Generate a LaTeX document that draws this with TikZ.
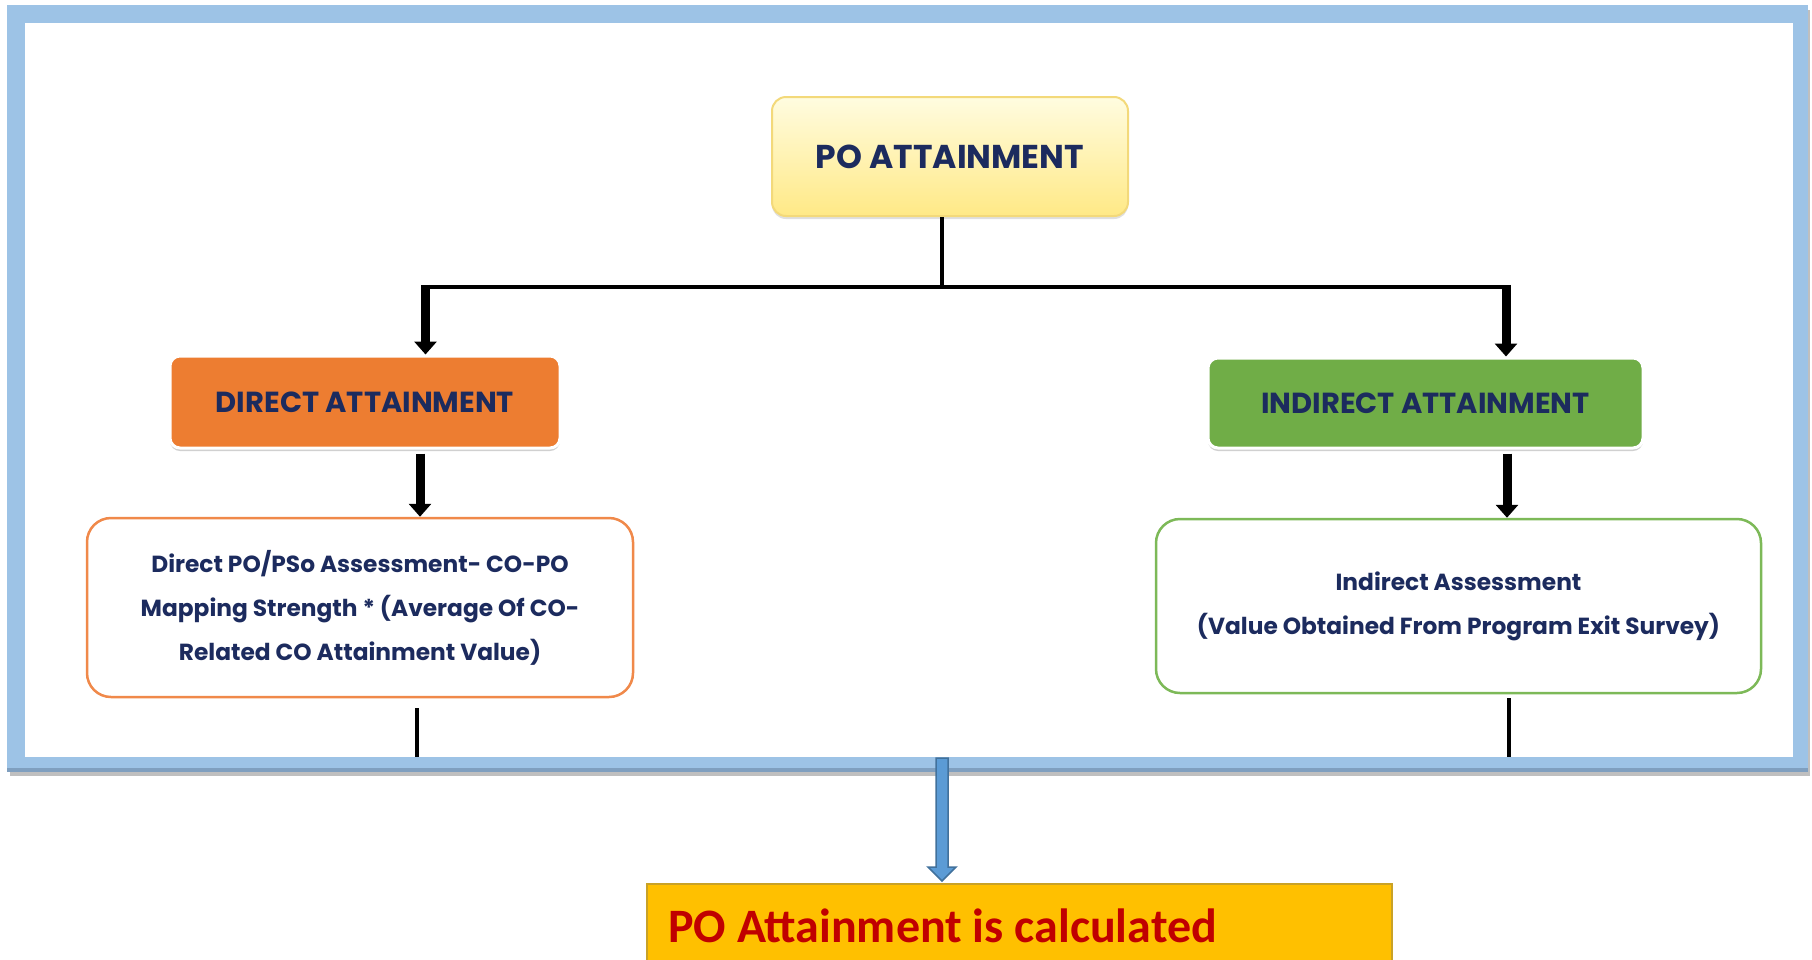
\documentclass[tikz,border=0pt]{standalone}
\usepackage{fontspec}
\setmainfont{Poppins}
\newfontfamily\carlito{Carlito}
\usetikzlibrary{arrows.meta,shadows,calc}
\definecolor{navy}{HTML}{1C2B5E}
\definecolor{framebl}{HTML}{9DC3E6}
\definecolor{frameedge}{HTML}{7F9FBF}
\definecolor{dirorange}{HTML}{ED7D31}
\definecolor{indgreen}{HTML}{70AD47}
\definecolor{orangeline}{HTML}{F0894A}
\definecolor{greenline}{HTML}{7DB958}
\definecolor{poytop}{HTML}{FFFCE0}
\definecolor{poybot}{HTML}{FFE986}
\definecolor{poyline}{HTML}{F3D97A}
\definecolor{arrowbl}{HTML}{5B9BD5}
\definecolor{arrowblline}{HTML}{41719C}
\definecolor{resfill}{HTML}{FFC000}
\definecolor{resline}{HTML}{C9A227}
\definecolor{resred}{HTML}{C00000}
\tikzset{
  headbox/.style={rounded corners=10pt, draw=white, line width=3pt,
    text=navy, font=\bfseries\fontsize{29}{32}\selectfont,
    drop shadow={shadow xshift=0pt, shadow yshift=-3pt, opacity=0.3, fill=black!60}},
  infobox/.style={rounded corners=24pt, fill=white, line width=2.5pt,
    text=navy, align=center, font=\bfseries\fontsize{23.3}{44}\selectfont},
  conn/.style={line width=4.5pt, draw=black},
  droplink/.style={line width=3.5pt, draw=black},
  downarrow/.style={line width=9pt, draw=black, -{Triangle[width=22pt,length=13pt]}},
}
\begin{document}
\begin{tikzpicture}[x=1pt, y=-1pt]
\useasboundingbox (0,0) rectangle (1812,959);
\fill[white] (0,0) rectangle (1812,959);

% outer light-blue frame with a soft shadow at its lower edge
\fill[black!25] (10,10) rectangle (1810,776);
\fill[framebl] (7,5) rectangle (1808,772);
\fill[frameedge] (7,768) rectangle (1808,772);
\fill[white] (25,23) rectangle (1793,757);
\coordinate (fbot) at (0,757);

% nodes
\node[rounded corners=14pt, draw=poyline, line width=2pt,
      top color=poytop, bottom color=poybot,
      minimum width=356pt, minimum height=119pt, text=navy,
      font=\bfseries\fontsize{33}{36}\selectfont,
      drop shadow={shadow xshift=0pt, shadow yshift=-3pt, opacity=0.25, fill=black!50}]
      (po) at (950,156.5) {PO ATTAINMENT};

\node[headbox, fill=dirorange, minimum width=390pt, minimum height=92pt]
      (direct) at (365,402) {DIRECT ATTAINMENT};
\node[headbox, fill=indgreen, minimum width=435pt, minimum height=90pt]
      (indirect) at (1425.5,403) {INDIRECT ATTAINMENT};

\node[infobox, draw=orangeline, minimum width=546pt, minimum height=179pt]
      (dpo) at (360,607.5) {Direct PO/PSo Assessment- CO-PO\\Mapping Strength * (Average Of CO-\\Related CO Attainment Value)};
\node[infobox, draw=greenline, minimum width=605pt, minimum height=174pt]
      (ipo) at (1458.5,606) {Indirect Assessment\\(Value Obtained From Program Exit Survey)};

% connectors
\coordinate (split) at (942,287);
\coordinate (lbend) at (425.5,287);
\coordinate (rbend) at (1506,287);
\draw[conn] (split |- po.south) -- (split);
\draw[conn] ($(lbend)+(-4.5,0)$) -- ($(rbend)+(4.5,0)$);
\draw[downarrow] ($(lbend)+(0,-2.25)$) -- (lbend |- direct.north);
\draw[downarrow] ($(rbend)+(0,-2.25)$) -- (rbend |- indirect.north);
\coordinate (lmid) at (420,0);
\coordinate (rmid) at (1507,0);
\draw[downarrow] ($(lmid |- direct.south)+(0,4)$) -- (lmid |- dpo.north);
\draw[downarrow] ($(rmid |- indirect.south)+(0,4)$) -- (rmid |- ipo.north);
\coordinate (ldrop) at (417,0);
\coordinate (rdrop) at (1509,0);
\draw[droplink] ($(ldrop |- dpo.south)+(0,10)$) -- (ldrop |- fbot);
\draw[droplink] ($(rdrop |- ipo.south)+(0,4)$) -- (rdrop |- fbot);

% result box at the foot
\coordinate (restop) at (942,884);
\fill[resfill] (647,884) rectangle (1392,975);
\draw[resline, line width=2pt] (1392,975) -- (1392,884) -- (647,884) -- (647,975);
\node[anchor=base west, text=resred, inner sep=0pt,
      font=\carlito\bfseries\fontsize{48}{50}\selectfont]
      (result) at (668,942) {PO Attainment is calculated};

% block arrow from the frame down to the result box
\coordinate (btop) at (942,758);
\filldraw[fill=arrowbl, draw=arrowblline, line width=1.5pt]
  ($(btop)+(-6,0)$) -- ($(btop)+(6,0)$) -- ($(restop)+(6,-17)$)
  -- ($(restop)+(14,-17)$) -- ($(restop)+(0,-3)$) -- ($(restop)+(-14,-17)$)
  -- ($(restop)+(-6,-17)$) -- cycle;
\end{tikzpicture}
\end{document}
